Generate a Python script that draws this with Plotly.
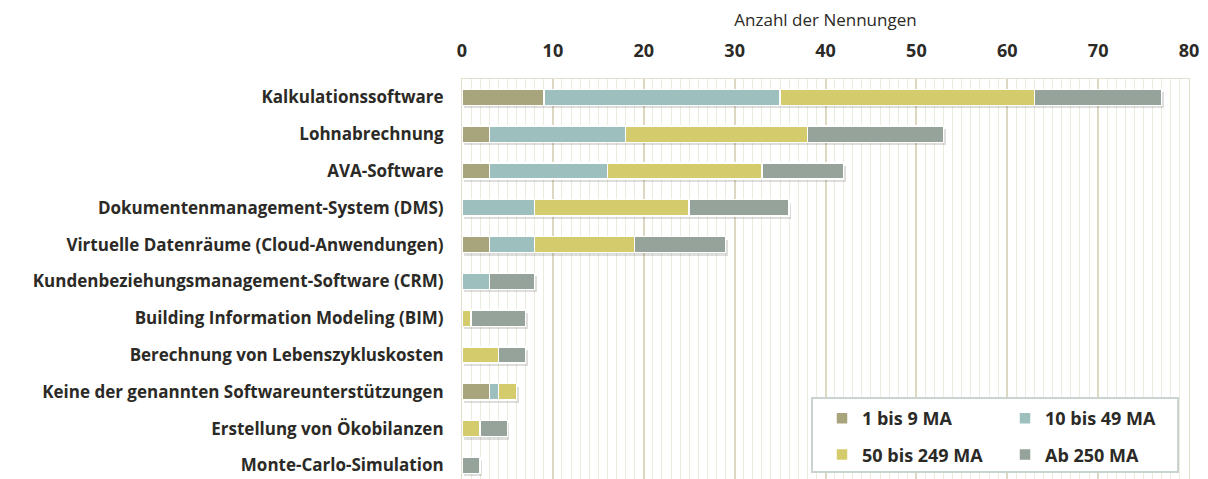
import plotly.graph_objects as go

# categories, top to bottom
categories = [
    "Kalkulationssoftware",
    "Lohnabrechnung",
    "AVA-Software",
    "Dokumentenmanagement-System (DMS)",
    "Virtuelle Datenräume (Cloud-Anwendungen)",
    "Kundenbeziehungsmanagement-Software (CRM)",
    "Building Information Modeling (BIM)",
    "Berechnung von Lebenszykluskosten",
    "Keine der genannten Softwareunterstützungen",
    "Erstellung von Ökobilanzen",
    "Monte-Carlo-Simulation",
]

ma_1_9 = [9, 3, 3, 0, 3, 0, 0, 0, 3, 0, 0]
ma_10_49 = [26, 15, 13, 8, 5, 3, 0, 0, 1, 0, 0]
ma_50_249 = [28, 20, 17, 17, 11, 0, 1, 4, 2, 2, 0]
ma_250 = [14, 15, 9, 11, 10, 5, 6, 3, 0, 3, 2]

series = [
    ("1 bis 9 MA", ma_1_9, "#a8a57c", "legend"),
    ("10 bis 49 MA", ma_10_49, "#9dbfbe", "legend2"),
    ("50 bis 249 MA", ma_50_249, "#d4cc6c", "legend"),
    ("Ab 250 MA", ma_250, "#95a39b", "legend2"),
]
totals = [sum(v) for v in zip(ma_1_9, ma_10_49, ma_50_249, ma_250)]

W, H = 1208, 479
M_L, M_R, M_T, M_B = 462, 19, 79, 0
PW = W - M_L - M_R
PH = H - M_T - M_B

X_RANGE = [0, 80]
Y_RANGE = [10.37, -0.5]
BARGAP = 0.56
BAR_W = 1 - BARGAP
# shadow offset in px -> axis units
sx = 2.0 * (X_RANGE[1] - X_RANGE[0]) / PW
sy = 3.0 * (Y_RANGE[0] - Y_RANGE[1]) / PH


def px_x(p):
    return (p - M_L) / PW


def px_y(p):
    return 1 - (p - M_T) / PH


FONT = "'Open Sans', sans-serif"
TXT = "#2b2a26"

fig = go.Figure()
# soft drop shadow behind the stacked bars (base axes, drawn first)
fig.add_trace(go.Bar(
    y=categories, x=totals, base=sx, orientation="h", showlegend=False,
    width=BAR_W, offset=-BAR_W / 2 + sy,
    marker=dict(color="rgba(60,60,50,0.17)", line=dict(width=0)),
    hoverinfo="skip", xaxis="x", yaxis="y",
))
for name, vals, col, lg in series:
    fig.add_trace(go.Bar(
        y=categories, x=vals, name=name, orientation="h",
        marker=dict(color=col, line=dict(color="white", width=1.5)),
        legend=lg, legendgroup=name, xaxis="x2", yaxis="y2",
    ))

leg_common = dict(
    orientation="v", traceorder="grouped", tracegroupgap=10,
    bgcolor="rgba(0,0,0,0)", borderwidth=0,
    font=dict(family=FONT, size=18, color=TXT, weight="bold"),
    xanchor="left", yanchor="top", itemwidth=30,
)

fig.update_layout(
    width=W, height=H,
    margin=dict(l=M_L, r=M_R, t=M_T, b=M_B),
    paper_bgcolor="white", plot_bgcolor="white",
    barmode="stack", bargap=BARGAP,
    font=dict(family=FONT, color=TXT),
    legend=dict(leg_common, x=px_x(822), y=px_y(400)),
    legend2=dict(leg_common, x=px_x(1005), y=px_y(400)),
    xaxis=dict(
        side="top", range=X_RANGE, dtick=10, automargin=False,
        showgrid=True, gridcolor="#dcd8c2", gridwidth=2,
        minor=dict(dtick=1, showgrid=True, gridcolor="#ecebe0", gridwidth=1),
        zeroline=False,
        showline=True, mirror=True, linecolor="#e3e0cf", linewidth=1,
        tickfont=dict(family=FONT, size=18, color=TXT, weight="bold"),
        ticklabelstandoff=14,
        title=dict(text="Anzahl der Nennungen", standoff=6,
                   font=dict(family=FONT, size=17, color=TXT)),
    ),
    yaxis=dict(
        categoryorder="array", categoryarray=categories,
        range=Y_RANGE, automargin=False,
        showgrid=False, zeroline=False,
        showline=True, mirror=True, linecolor="#e3e0cf", linewidth=1,
        ticklabelstandoff=14,
        tickfont=dict(family=FONT, size=17, color=TXT, weight="bold"),
    ),
    xaxis2=dict(
        overlaying="x", side="top", range=X_RANGE, automargin=False,
        showgrid=False, zeroline=False, showticklabels=False, showline=False,
    ),
    yaxis2=dict(
        overlaying="y", categoryorder="array", categoryarray=categories,
        range=Y_RANGE, automargin=False,
        showgrid=False, zeroline=False, showticklabels=False, showline=False,
    ),
    shapes=[dict(
        type="rect", xref="paper", yref="paper", layer="above",
        x0=px_x(812), x1=px_x(1178), y0=px_y(472), y1=px_y(398),
        fillcolor="white", line=dict(color="#c9d3d0", width=2),
    )],
)

fig.write_html("out.html", config={"displayModeBar": False},
               post_script="document.body.style.margin='0';")
